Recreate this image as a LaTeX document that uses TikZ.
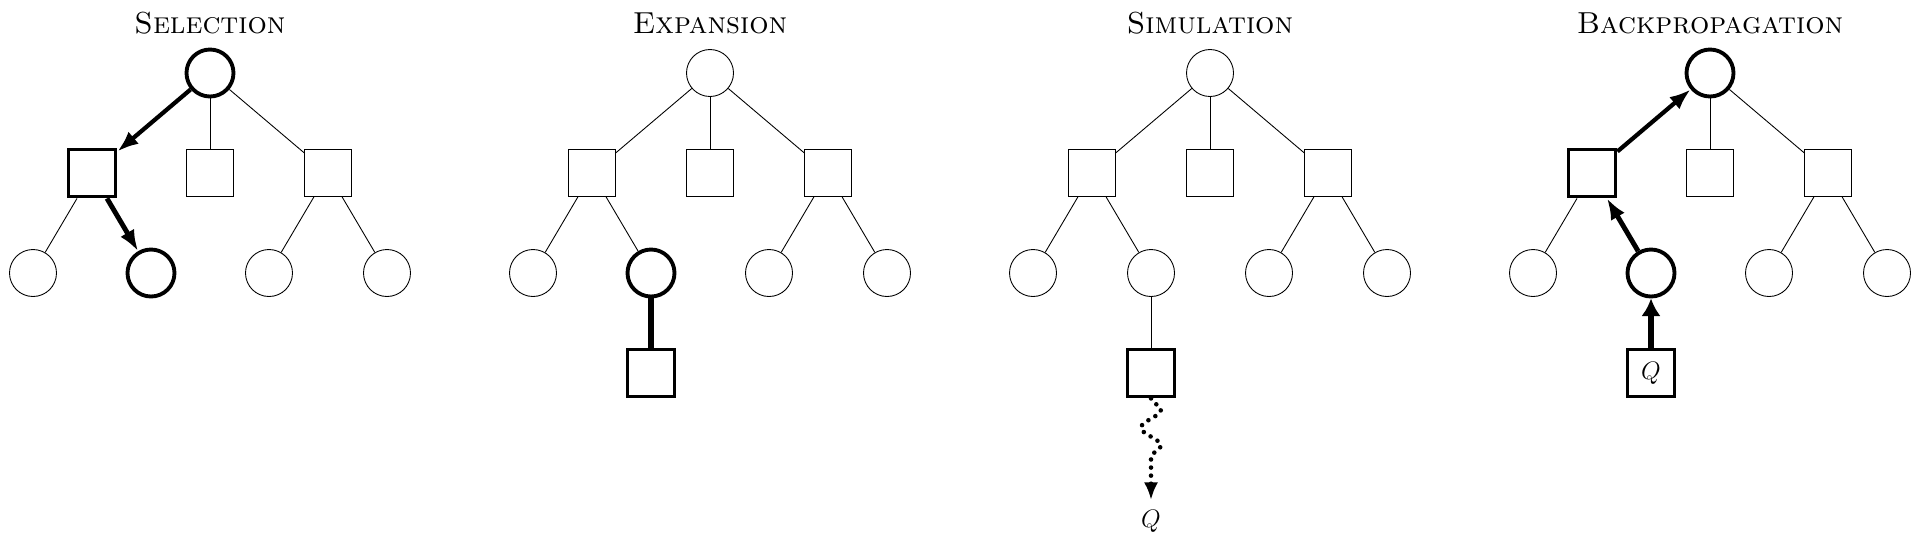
\documentclass[tikz,border=0pt]{standalone}
\usepackage{amsmath}
\usepackage{tikz}
\usetikzlibrary{arrows.meta,decorations.pathmorphing}
\tikzset{
	state/.style={circle, draw, line width=0.5pt, minimum size=0.94cm, inner sep=0pt},
	chance/.style={rectangle, draw, line width=0.5pt, minimum size=0.94cm, inner sep=0pt},
	hot/.style={line width=2.2pt},
	link/.style={line width=0.5pt},
	walk/.style={line width=2.4pt, -{Latex[length=12pt,width=9pt]}},
	push/.style={line width=3.4pt, -{Latex[length=10pt,width=11pt]}},
	phase/.style={font=\LARGE\scshape, anchor=base},
}

\begin{document}
\begin{tikzpicture}
	\useasboundingbox (0,0) rectangle (38.4,-10.84);

	\begin{scope}[xshift=4.2cm]
	\node [phase] (sel-title) at (0,-0.66) {Selection};
	\node [state, hot] (sel-root) at (0,-1.46) {};
	\node [chance, hot] (sel-a) at (-2.36,-3.46) {};
	\node [chance] (sel-b) at (0,-3.46) {};
	\node [chance] (sel-c) at (2.36,-3.46) {};
	\node [state] (sel-a1) at (-3.54,-5.46) {};
	\node [state, hot] (sel-a2) at (-1.18,-5.46) {};
	\node [state] (sel-c1) at (1.18,-5.46) {};
	\node [state] (sel-c2) at (3.54,-5.46) {};
	\draw [walk] (sel-root) -- (sel-a);
	\draw [link] (sel-root) -- (sel-b);
	\draw [link] (sel-root) -- (sel-c);
	\draw [link] (sel-a) -- (sel-a1);
	\draw [walk, line width=2.8pt] (sel-a) -- (sel-a2);
	\draw [link] (sel-c) -- (sel-c1);
	\draw [link] (sel-c) -- (sel-c2);
	\end{scope}

	\begin{scope}[xshift=14.2cm]
	\node [phase] (exp-title) at (0,-0.66) {Expansion};
	\node [state] (exp-root) at (0,-1.46) {};
	\node [chance] (exp-a) at (-2.36,-3.46) {};
	\node [chance] (exp-b) at (0,-3.46) {};
	\node [chance] (exp-c) at (2.36,-3.46) {};
	\node [state] (exp-a1) at (-3.54,-5.46) {};
	\node [state, hot] (exp-a2) at (-1.18,-5.46) {};
	\node [state] (exp-c1) at (1.18,-5.46) {};
	\node [state] (exp-c2) at (3.54,-5.46) {};
	\node [chance, hot] (exp-new) at (-1.18,-7.46) {};
	\draw [link] (exp-root) -- (exp-a);
	\draw [link] (exp-root) -- (exp-b);
	\draw [link] (exp-root) -- (exp-c);
	\draw [link] (exp-a) -- (exp-a1);
	\draw [link] (exp-a) -- (exp-a2);
	\draw [link] (exp-c) -- (exp-c1);
	\draw [link] (exp-c) -- (exp-c2);
	\draw [line width=3.4pt] (exp-a2) -- (exp-new);
	\end{scope}

	\begin{scope}[xshift=24.2cm]
	\node [phase] (sim-title) at (0,-0.66) {Simulation};
	\node [state] (sim-root) at (0,-1.46) {};
	\node [chance] (sim-a) at (-2.36,-3.46) {};
	\node [chance] (sim-b) at (0,-3.46) {};
	\node [chance] (sim-c) at (2.36,-3.46) {};
	\node [state] (sim-a1) at (-3.54,-5.46) {};
	\node [state] (sim-a2) at (-1.18,-5.46) {};
	\node [state] (sim-c1) at (1.18,-5.46) {};
	\node [state] (sim-c2) at (3.54,-5.46) {};
	\node [chance, hot] (sim-new) at (-1.18,-7.46) {};
	\node [font=\Large, anchor=north, inner sep=5.7pt] (sim-q) at (-1.18,-10.0) {$Q$};
	\draw [link] (sim-root) -- (sim-a);
	\draw [link] (sim-root) -- (sim-b);
	\draw [link] (sim-root) -- (sim-c);
	\draw [link] (sim-a) -- (sim-a1);
	\draw [link] (sim-a) -- (sim-a2);
	\draw [link] (sim-c) -- (sim-c1);
	\draw [link] (sim-c) -- (sim-c2);
	\draw [link] (sim-a2) -- (sim-new);
	\draw [line width=2.6pt, line cap=round, dash pattern=on 0pt off 4.6pt, -{Latex[length=10pt,width=8pt]}, decorate, decoration={snake, amplitude=0.2cm, segment length=0.72cm, post length=0.62cm}] (sim-new) -- (sim-q);
	\end{scope}

	\begin{scope}[xshift=34.2cm]
	\node [phase] (back-title) at (0,-0.66) {Backpropagation};
	\node [state, hot] (back-root) at (0,-1.46) {};
	\node [chance, hot] (back-a) at (-2.36,-3.46) {};
	\node [chance] (back-b) at (0,-3.46) {};
	\node [chance] (back-c) at (2.36,-3.46) {};
	\node [state] (back-a1) at (-3.54,-5.46) {};
	\node [state, hot] (back-a2) at (-1.18,-5.46) {};
	\node [state] (back-c1) at (1.18,-5.46) {};
	\node [state] (back-c2) at (3.54,-5.46) {};
	\node [chance, hot, font=\Large] (back-new) at (-1.18,-7.46) {$Q$};
	\draw [walk] (back-a) -- (back-root);
	\draw [link] (back-root) -- (back-b);
	\draw [link] (back-root) -- (back-c);
	\draw [link] (back-a) -- (back-a1);
	\draw [walk, line width=2.8pt] (back-a2) -- (back-a);
	\draw [link] (back-c) -- (back-c1);
	\draw [link] (back-c) -- (back-c2);
	\draw [push] (back-new) -- (back-a2);
	\end{scope}
\end{tikzpicture}
\end{document}
